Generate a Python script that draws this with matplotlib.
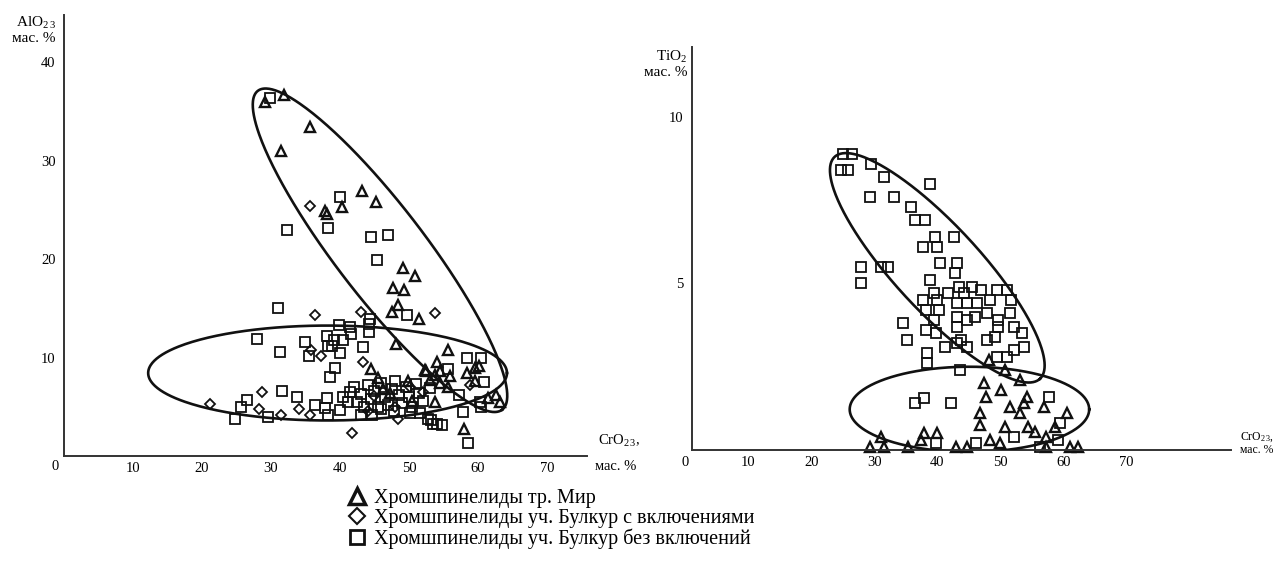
import numpy as np
import matplotlib
matplotlib.use("Agg")
import matplotlib.pyplot as plt
from matplotlib.lines import Line2D

plt.rcParams['font.family'] = ['Liberation Serif', 'DejaVu Serif']
plt.rcParams['mathtext.fontset'] = 'custom'
plt.rcParams['mathtext.rm'] = 'Liberation Serif'
plt.rcParams['mathtext.it'] = 'Liberation Serif:italic'

# ---------------- data: left panel (Cr2O3 vs Al2O3) ----------------
left_mir_cr = [29.2, 31.9, 35.6, 31.4, 37.8, 38.1, 43.2, 45.2, 40.3, 49.1, 50.9, 47.7, 49.3, 48.4,
               47.6, 51.5, 48.1, 44.5, 55.7, 54.0, 52.5, 54.5, 55.9, 58.4, 59.6, 60.2, 59.6, 53.8,
               61.5, 62.6, 63.2, 58.0, 52.3, 53.8, 53.0, 54.5, 55.6, 45.5, 47.2, 49.8, 50.5, 46.3]
left_mir_al = [36.0, 36.7, 33.4, 31.0, 24.9, 24.6, 26.9, 25.8, 25.3, 19.1, 18.3, 17.1, 16.9, 15.3,
               14.6, 13.9, 11.4, 8.8, 10.8, 9.6, 8.6, 8.6, 8.1, 8.4, 8.9, 9.1, 7.6, 5.5,
               5.9, 6.2, 5.5, 2.7, 8.7, 8.2, 7.7, 7.4, 7.0, 7.9, 6.4, 7.6, 5.6, 6.8]

left_inc_cr = [35.7, 53.7, 36.4, 43.1, 35.8, 37.3, 43.3, 58.8, 28.7, 28.2, 31.4, 34.0, 35.6, 48.4,
               21.1, 41.7, 45.0, 48.0, 50.2, 52.0, 44.0]
left_inc_al = [25.4, 14.5, 14.3, 14.6, 10.8, 10.2, 9.5, 7.2, 6.5, 4.8, 4.2, 4.8, 4.2, 3.8,
               5.3, 2.3, 6.1, 5.0, 7.0, 6.5, 4.6]

left_sq_cr = [29.8, 32.3, 38.3, 40.0, 44.5, 46.9, 45.3, 49.7, 31.0, 44.4, 44.2, 44.2, 39.8, 41.4,
              41.6, 28.0, 38.1, 39.1, 40.5, 38.9, 40.0, 38.3, 35.0, 31.3, 35.5, 43.3, 39.3, 38.5,
              58.4, 60.5, 55.7, 57.2, 57.8, 60.3, 60.5, 53.2, 54.1, 54.8, 58.6, 31.6, 33.8, 26.5,
              25.6, 24.8, 29.6, 36.4, 38.1, 37.8, 38.3, 40.0, 40.5, 41.2, 43.0, 44.6, 51.6, 52.8,
              53.5, 42.0, 43.0, 44.0, 44.5, 45.0, 46.0, 46.5, 47.0, 47.5, 48.0, 48.5, 49.0, 49.5,
              50.0, 50.5, 51.0, 51.5, 52.0, 53.0, 42.5, 45.5, 47.8, 50.2, 41.5, 43.5, 46.0, 60.9]
left_sq_al = [36.4, 23.0, 23.2, 26.3, 22.2, 22.5, 19.9, 14.3, 15.0, 13.9, 13.4, 12.6, 13.3, 13.1,
              12.4, 11.9, 12.2, 11.8, 11.8, 11.2, 10.5, 11.2, 11.6, 10.6, 10.2, 11.1, 8.9, 8.0,
              10.0, 10.0, 8.8, 6.2, 4.5, 5.5, 5.0, 3.7, 3.3, 3.2, 1.3, 6.6, 6.0, 5.7,
              5.0, 3.8, 4.0, 5.2, 5.9, 4.9, 4.2, 4.7, 6.0, 5.5, 4.2, 4.2, 4.4, 3.8,
              3.3, 7.0, 6.3, 7.2, 5.8, 6.6, 7.4, 6.0, 5.2, 6.8, 7.6, 6.2, 5.4, 7.0,
              6.0, 5.0, 7.3, 6.4, 5.6, 6.9, 5.5, 5.0, 4.6, 4.4, 6.5, 5.0, 4.8, 7.5]

# ---------------- data: right panel (Cr2O3 vs TiO2) ----------------
right_mir_cr = [48.2, 50.8, 53.1, 47.4, 50.1, 47.8, 54.2, 51.5, 53.7, 57.0, 46.8, 53.1, 46.8, 50.8,
                54.4, 55.5, 58.6, 60.6, 31.1, 37.9, 40.0, 29.3, 31.6, 35.3, 37.4, 42.9, 44.7, 48.4,
                50.0, 57.3, 57.3, 61.0, 62.3]
right_mir_ti = [2.7, 2.4, 2.1, 2.0, 1.8, 1.6, 1.6, 1.3, 1.4, 1.3, 1.1, 1.1, 0.75, 0.7,
                0.7, 0.55, 0.7, 1.1, 0.4, 0.5, 0.5, 0.1, 0.1, 0.1, 0.3, 0.1, 0.1, 0.3,
                0.2, 0.4, 0.1, 0.1, 0.1]

right_sq_cr = [25.1, 26.4, 24.7, 25.9, 29.5, 31.5, 29.4, 33.2, 27.9, 27.9, 31.0, 32.2,
               38.9, 35.8, 36.4, 38.0, 37.8, 39.7, 40.0, 42.7, 40.5, 43.2, 42.8, 38.9, 43.5,
               39.5, 41.7, 44.3, 45.5, 46.9, 49.5, 51.0, 51.7, 37.7, 40.0, 38.2, 40.3, 43.2,
               43.2, 43.2, 44.7, 46.3, 48.4, 47.9, 46.0, 44.7, 49.7, 51.6, 49.7, 52.1, 53.4,
               47.9, 49.2, 53.7, 52.1, 49.4, 51.0, 34.6, 35.2, 38.2, 39.5, 39.8, 41.3, 43.2,
               44.7, 43.7, 38.4, 38.3, 43.6, 36.4, 37.9, 42.2, 57.7, 59.4, 59.2, 39.8, 46.1,
               52.1, 56.3]
right_sq_ti = [8.9, 8.9, 8.4, 8.4, 8.6, 8.2, 7.6, 7.6, 5.5, 5.0, 5.5, 5.5,
               8.0, 7.3, 6.9, 6.9, 6.1, 6.4, 6.1, 6.4, 5.6, 5.6, 5.3, 5.1, 4.9,
               4.7, 4.7, 4.7, 4.9, 4.8, 4.8, 4.8, 4.5, 4.5, 4.5, 4.2, 4.2, 4.4,
               4.0, 3.7, 4.4, 4.4, 4.5, 4.1, 4.0, 3.9, 3.9, 4.1, 3.7, 3.7, 3.5,
               3.3, 3.4, 3.1, 3.0, 2.8, 2.8, 3.8, 3.3, 3.6, 3.9, 3.5, 3.1, 3.2,
               3.1, 3.3, 2.9, 2.6, 2.4, 1.4, 1.55, 1.4, 1.6, 0.8, 0.3, 0.2, 0.2,
               0.4, 0.1]

# ellipses: centre and two conjugate semi-axis vectors (data units)
left_ell_tilt = ((45.8, 20.9), (17.7, -16.2), (5.18, 2.75))
left_ell_flat = ((38.2, 8.43), (26.0, 0.0), (0.0, 4.82))
right_ell_tilt = ((40.0, 5.47), (16.3, -3.33), (4.94, 0.88))
right_ell_flat = ((45.1, 1.22), (19.0, 0.0), (0.0, 1.28))

left_xticks = [10, 20, 30, 40, 50, 60, 70]
left_yticks = [10, 20, 30, 40]
right_xticks = [10, 20, 30, 40, 50, 60, 70]
right_yticks = [5, 10]

legend_labels = ["Хромшпинелиды тр. Мир",
                 "Хромшпинелиды уч. Булкур с включениями",
                 "Хромшпинелиды уч. Булкур без включений"]

# ---------------- drawing ----------------
W, H = 1287, 565
fig = plt.figure(figsize=(W / 100, H / 100), dpi=100)

def add_ax(l, r, b, t):
    return fig.add_axes([l / W, 1 - b / H, (r - l) / W, (b - t) / H])

axL = add_ax(64, 587, 456, 15)
axR = add_ax(692, 1231, 450, 47)

tri = dict(marker='^', ms=7.8, mfc='none', mec='#111', mew=1.7, ls='none', clip_on=False)
dia = dict(marker='D', ms=4.6, mfc='none', mec='#111', mew=1.3, ls='none', clip_on=False)
sq = dict(marker='s', ms=6.6, mfc='none', mec='#111', mew=1.3, ls='none', clip_on=False)

def draw_ellipse(ax, ell):
    (cx, cy), (ux, uy), (vx, vy) = ell
    t = np.linspace(0, 2 * np.pi, 400)
    ax.plot(cx + ux * np.cos(t) + vx * np.sin(t), cy + uy * np.cos(t) + vy * np.sin(t),
            color='#111', lw=1.9, zorder=3)

def style(ax, xlim, ylim, xt, yt):
    ax.set_xlim(*xlim)
    ax.set_ylim(*ylim)
    for s in ['top', 'right']:
        ax.spines[s].set_visible(False)
    for s in ['left', 'bottom']:
        ax.spines[s].set_color('#333')
        ax.spines[s].set_linewidth(1.4)
    ax.set_xticks(xt)
    ax.set_yticks(yt)
    ax.tick_params(length=0, labelsize=10.5)
    ax.tick_params(axis='x', pad=4)
    ax.tick_params(axis='y', pad=6)
    ax.patch.set_alpha(0)

# left panel
style(axL, (0, 75.8), (0, 44.8), left_xticks, left_yticks)
draw_ellipse(axL, left_ell_tilt)
draw_ellipse(axL, left_ell_flat)
axL.plot(left_sq_cr, left_sq_al, **sq)
axL.plot(left_inc_cr, left_inc_al, **dia)
axL.plot(left_mir_cr, left_mir_al, **tri)

# right panel
style(axR, (1.08, 86.6), (0, 12.1), right_xticks, right_yticks)
draw_ellipse(axR, right_ell_tilt)
draw_ellipse(axR, right_ell_flat)
axR.plot(right_sq_cr, right_sq_ti, **sq)
axR.plot(right_mir_cr, right_mir_ti, **tri)

# axis captions (pixel positions in figure)
def ftext(x, y, s, **kw):
    fig.text(x / W, 1 - y / H, s, **kw)

ftext(55, 467, "0", ha='center', va='center', fontsize=10.5)
ftext(685, 463, "0", ha='center', va='center', fontsize=10.5)

ftext(56, 30, "AlO$_{2\\,3}$\nмас. %", ha='right', va='center', fontsize=11,
      multialignment='right', linespacing=1.15)
ftext(687, 64, "TiO$_2$\nмас. %", ha='right', va='center', fontsize=11,
      multialignment='right', linespacing=1.15)

ftext(598, 441, "CrO$_{2\\,3}$,", ha='left', va='center', fontsize=10.5)
ftext(616, 467, "мас. %", ha='center', va='center', fontsize=10.5)

ftext(1257, 443, "CrO$_{2\\,3}$,\nмас. %", ha='center', va='center', fontsize=8.5,
      linespacing=0.95)

# legend
handles = [Line2D([], [], marker='^', ms=11.5, mfc='none', mec='#111', mew=2.5, ls='none'),
           Line2D([], [], marker='D', ms=8, mfc='none', mec='#111', mew=1.5, ls='none'),
           Line2D([], [], marker='s', ms=10, mfc='none', mec='#111', mew=2.0, ls='none')]
fig.legend(handles, legend_labels, loc='upper left', bbox_to_anchor=(350 / W, 1 - 489 / H),
           frameon=False, fontsize=14.5, handlelength=0.7, handletextpad=0.5,
           labelspacing=0.03, borderpad=0, borderaxespad=0)

fig.savefig("out.png", dpi=100)
